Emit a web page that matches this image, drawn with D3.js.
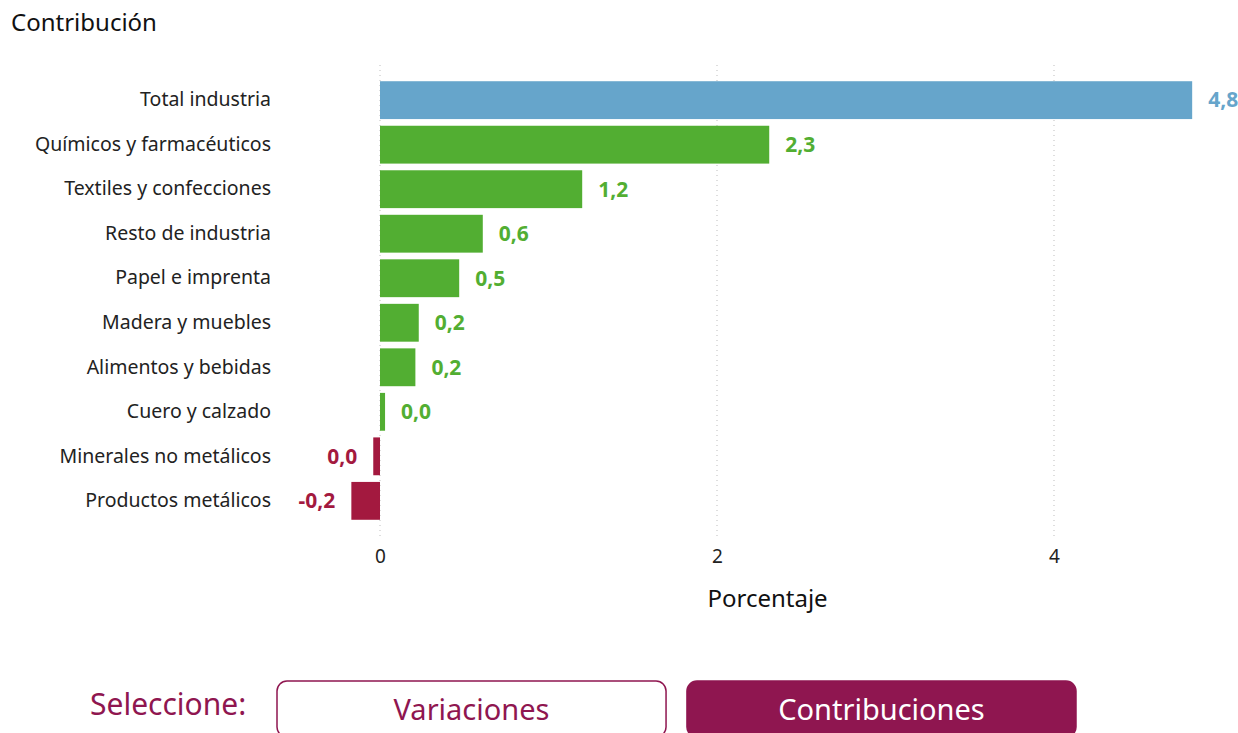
<!DOCTYPE html>
<html>
<head>
<meta charset="utf-8">
<script src="https://cdn.jsdelivr.net/npm/d3@7"></script>
<style>
  body { margin: 0; background: #fff; font-family: "Noto Sans", "Open Sans", sans-serif; }
  svg { display: block; }
</style>
</head>
<body>
<div class="main-bar-chart"></div>
<script>
// categorias y contribuciones (puntos porcentuales)
const categories = [
  "Total industria", "Químicos y farmacéuticos", "Textiles y confecciones",
  "Resto de industria", "Papel e imprenta", "Madera y muebles",
  "Alimentos y bebidas", "Cuero y calzado", "Minerales no metálicos",
  "Productos metálicos"
];
const values = [4.82, 2.31, 1.20, 0.61, 0.47, 0.23, 0.21, 0.03, -0.04, -0.17];
const xTicks = [0, 2, 4];
const buttons = ["Variaciones", "Contribuciones"];

const data = categories.map((c, i) => ({ name: c, value: values[i] }));

const width = 1238, height = 733;
const margin = { top: 79, right: 46, bottom: 211, left: 380 };

const svg = d3.select(".main-bar-chart").append("svg")
    .attr("width", width)
    .attr("height", height);

// title
svg.append("text")
    .attr("x", 11).attr("y", 31)
    .attr("font-size", 24)
    .attr("fill", "#111")
    .text("Contribución");

const x = d3.scaleLinear().domain([0, 4]).range([380, 1054]);
const y = d3.scaleBand()
    .domain(categories)
    .range([margin.top, 522])
    .paddingInner(0.15)
    .paddingOuter(0.05);

// dotted gridlines
svg.append("g").selectAll("line")
    .data(xTicks)
    .join("line")
    .attr("x1", d => x(d)).attr("x2", d => x(d))
    .attr("y1", 65).attr("y2", 536)
    .attr("stroke", "#bdbdbd")
    .attr("stroke-width", 1)
    .attr("stroke-dasharray", "1 4");

// x axis
const xAxis = svg.append("g")
    .attr("transform", "translate(0, 540)")
    .call(d3.axisBottom(x).tickValues(xTicks).tickSize(0).tickPadding(10).tickFormat(d3.format("d")));
xAxis.select(".domain").remove();
xAxis.selectAll("text")
    .attr("font-size", 19)
    .attr("font-family", "Noto Sans, sans-serif")
    .attr("fill", "#222");

svg.append("text")
    .attr("x", x(2.3)).attr("y", 607)
    .attr("text-anchor", "middle")
    .attr("font-size", 24)
    .attr("fill", "#111")
    .text("Porcentaje");

// y axis labels
const yAxis = svg.append("g")
    .attr("transform", "translate(271, 0)")
    .call(d3.axisLeft(y).tickSize(0).tickPadding(0));
yAxis.select(".domain").remove();
yAxis.selectAll("text")
    .attr("font-size", 19.5)
    .attr("font-family", "Noto Sans, sans-serif")
    .attr("fill", "#222");

const colorOf = (d, i) => i === 0 ? "#66a5cb" : (d.value >= 0 ? "#52ae32" : "#a3193f");

svg.append("g").selectAll("rect")
    .data(data)
    .join("rect")
    .attr("x", d => x(Math.min(0, d.value)))
    .attr("y", d => y(d.name))
    .attr("width", d => Math.abs(x(d.value) - x(0)))
    .attr("height", y.bandwidth())
    .attr("fill", colorOf);

const fmt = v => {
  const r = Math.round(v * 10) / 10;
  return (Math.abs(r) < 1e-9 ? "0.0" : r.toFixed(1)).replace(".", ",");
};

svg.append("g").selectAll("text")
    .data(data)
    .join("text")
    .attr("x", d => d.value >= 0 ? x(d.value) + 16 : x(d.value) - 16)
    .attr("y", d => y(d.name) + y.bandwidth() / 2)
    .attr("dy", "0.35em")
    .attr("text-anchor", d => d.value >= 0 ? "start" : "end")
    .attr("font-size", 21)
    .attr("font-weight", "bold")
    .attr("fill", colorOf)
    .text(d => fmt(d.value));

// selector buttons
const plum = "#8f1650";
svg.append("text")
    .attr("x", 90).attr("y", 715)
    .attr("font-size", 30)
    .attr("fill", plum)
    .text("Seleccione:");

const btnX = d3.scaleBand().domain(buttons).range([277, 1076]).paddingInner(0.051);
const btn = svg.append("g").selectAll("g")
    .data(buttons)
    .join("g")
    .attr("transform", d => `translate(${btnX(d)}, 681)`);
btn.append("rect")
    .attr("width", btnX.bandwidth())
    .attr("height", 56)
    .attr("rx", 10)
    .attr("fill", (d, i) => i === 1 ? plum : "#fff")
    .attr("stroke", plum)
    .attr("stroke-width", 1.5);
btn.append("text")
    .attr("x", btnX.bandwidth() / 2)
    .attr("y", 39)
    .attr("text-anchor", "middle")
    .attr("font-size", 29)
    .attr("fill", (d, i) => i === 1 ? "#fff" : plum)
    .text(d => d);
</script>
</body>
</html>
